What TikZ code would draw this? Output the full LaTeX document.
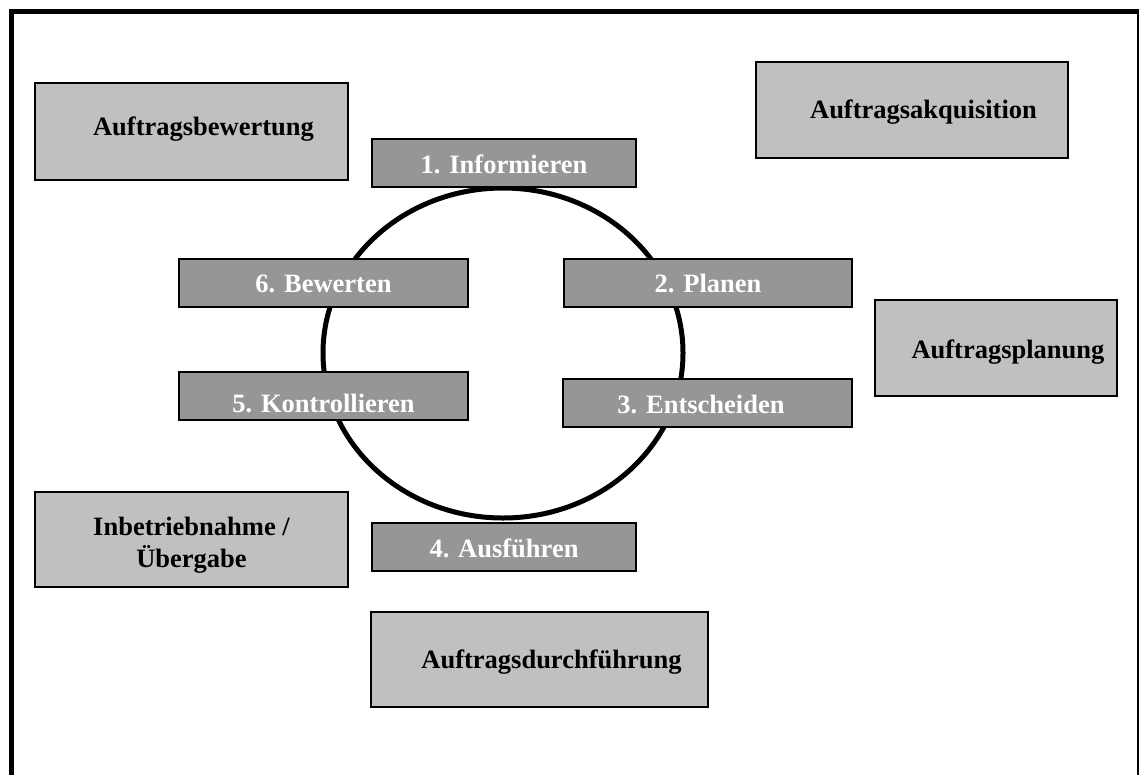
\documentclass[tikz,border=0pt]{standalone}
\usepackage{fontspec}
\setmainfont{Liberation Serif}
\begin{document}
\begin{tikzpicture}[x=1pt,y=-1pt,
  lightbox/.style={draw=black, line width=1.3pt, fill=lightgray, inner sep=0pt,
    font=\fontsize{26.5}{32}\selectfont\bfseries, text=black, text depth=0pt},
  stepbox/.style={draw=black, line width=1.3pt, fill=darkgray, inner sep=0pt,
    minimum height=48pt, font=\fontsize{26.5}{32}\selectfont\bfseries, text=white, text depth=0pt},
  ring/.style={draw=black, line width=5pt}]
\definecolor{lightgray}{HTML}{C0C0C0}
\definecolor{darkgray}{HTML}{969696}
\useasboundingbox (0,0) rectangle (1139,774);
\clip (0,0) rectangle (1139,774);
% outer frame
\draw[line width=4.5pt] (11.7,11.7) rectangle (1139.5,800);
% cycle ring
\draw[ring] (503,353) ellipse [x radius=180, y radius=165];
% phase boxes
\node[lightbox, minimum width=313pt, minimum height=97pt, text height=7pt] (bew) at (191.5,131.5) {\hspace*{24pt}Auftragsbewertung};
\node[lightbox, minimum width=312pt, minimum height=96pt, text height=16pt] (akq) at (912,110) {\hspace*{23pt}Auftragsakquisition};
\node[lightbox, minimum width=242pt, minimum height=96pt, text height=20pt] (pln) at (996,348) {\hspace*{24pt}Auftragsplanung};
\node[lightbox, minimum width=313pt, minimum height=95pt, align=center, text depth=, text height=] (inb) at (191.5,539.5) {\rule{0pt}{29pt}Inbetriebnahme /\\Übergabe};
\node[lightbox, minimum width=337pt, minimum height=95pt, text height=18pt] (dur) at (539.5,659.5) {\hspace*{24pt}Auftragsdurchführung};
% step boxes
\node[stepbox, minimum width=264pt, text height=20pt] (s1) at (504,163) {1. Informieren};
\node[stepbox, minimum width=288pt, text height=18pt] (s2) at (708,283) {2. Planen};
\node[stepbox, minimum width=289pt, text height=20pt] (s3) at (707.5,403) {3. Entscheiden\hspace*{13pt}};
\node[stepbox, minimum width=264pt, text height=20pt] (s4) at (504,547) {4. Ausführen};
\node[stepbox, minimum width=289pt, text height=32pt] (s5) at (323.5,396) {5. Kontrollieren};
\node[stepbox, minimum width=289pt, text height=18pt] (s6) at (323.5,283) {6. Bewerten};
\end{tikzpicture}
\end{document}
